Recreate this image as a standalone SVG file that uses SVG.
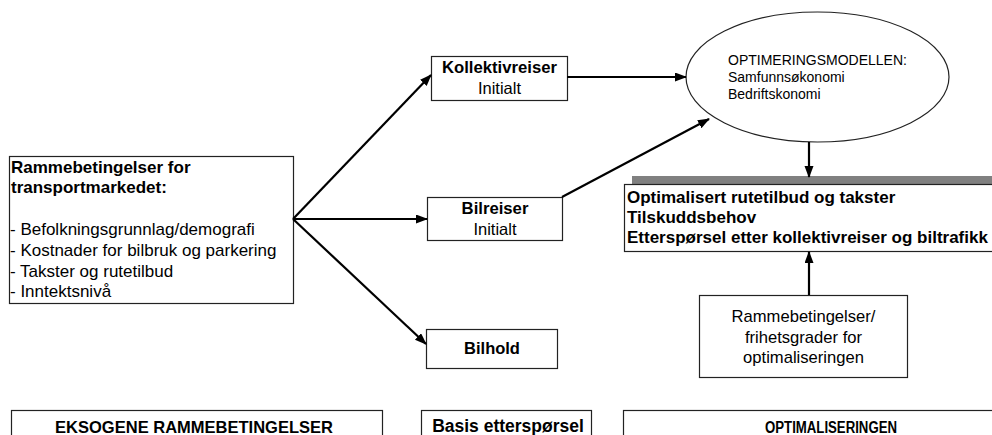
<svg xmlns="http://www.w3.org/2000/svg" width="992" height="435" viewBox="0 0 992 435">
<style>
.box{fill:#fff;stroke:#222;stroke-width:1.2}
.t{font-family:"Liberation Sans",Arial,sans-serif;fill:#000}
.b{font-weight:bold}
.c{text-anchor:middle}
.arr{stroke:#000;stroke-width:2.2;fill:none;marker-end:url(#ah)}
</style>
<defs>
<marker id="ah" markerUnits="userSpaceOnUse" markerWidth="12" markerHeight="10" refX="11" refY="4.5" orient="auto">
<path d="M0,0 L12,4.5 L0,9 z" fill="#000"/>
</marker>
</defs>
<rect width="992" height="435" fill="#fff"/>

<g id="rammebetingelser">
<rect class="box" x="9.5" y="156.5" width="284" height="147"/>
<text class="t b" font-size="17" x="11" y="173">Rammebetingelser for</text>
<text class="t b" font-size="17" x="11" y="193">transportmarkedet:</text>
<text class="t" font-size="17" x="10" y="235">- Befolkningsgrunnlag/demografi</text>
<text class="t" font-size="17" x="10" y="256">- Kostnader for bilbruk og parkering</text>
<text class="t" font-size="17" x="10" y="276.5">- Takster og rutetilbud</text>
<text class="t" font-size="17" x="10" y="297">- Inntektsnivå</text>
</g>

<g id="kollektivreiser">
<rect class="box" x="431.5" y="56.5" width="136" height="44"/>
<text class="t b c" font-size="16.7" x="499.5" y="73">Kollektivreiser</text>
<text class="t c" font-size="16.5" x="499.5" y="94">Initialt</text>
</g>

<g id="bilreiser">
<rect class="box" x="427.5" y="197.5" width="135" height="43"/>
<text class="t b c" font-size="16.7" x="495" y="214">Bilreiser</text>
<text class="t c" font-size="16.5" x="495" y="235">Initialt</text>
</g>

<g id="bilhold">
<rect class="box" x="426.5" y="329.5" width="131" height="39"/>
<text class="t b c" font-size="16.5" x="492" y="354">Bilhold</text>
</g>

<g id="optimeringsmodellen">
<ellipse cx="817.5" cy="77" rx="131.5" ry="65" fill="#fff" stroke="#222" stroke-width="1.2"/>
<text class="t" font-size="14" x="728" y="65">OPTIMERINGSMODELLEN:</text>
<text class="t" font-size="14" x="728" y="82">Samfunnsøkonomi</text>
<text class="t" font-size="14" x="728" y="99">Bedriftskonomi</text>
</g>

<g id="resultat">
<rect x="632" y="176" width="400" height="9" fill="#808080"/>
<rect class="box" x="624.5" y="184.5" width="400" height="67"/>
<text class="t b" font-size="17" x="627" y="203">Optimalisert rutetilbud og takster</text>
<text class="t b" font-size="17" x="627" y="223">Tilskuddsbehov</text>
<text class="t b" font-size="17" x="627" y="243">Etterspørsel etter kollektivreiser og biltrafikk</text>
</g>

<g id="frihetsgrader">
<rect class="box" x="699.5" y="295.5" width="208" height="82"/>
<text class="t c" font-size="16.6" x="803.5" y="322">Rammebetingelser/</text>
<text class="t c" font-size="16.6" x="803.5" y="342.5">frihetsgrader for</text>
<text class="t c" font-size="16.6" x="803.5" y="363">optimaliseringen</text>
</g>

<g id="eksogene">
<rect class="box" x="11.5" y="410.5" width="371" height="40"/>
<text class="t b c" font-size="16.5" x="194" y="433">EKSOGENE RAMMEBETINGELSER</text>
</g>

<g id="basis">
<rect class="box" x="421.5" y="410.5" width="170" height="40"/>
<text class="t b c" font-size="17.5" x="508" y="432">Basis etterspørsel</text>
</g>

<g id="optimaliseringen">
<rect class="box" x="623.5" y="410.5" width="420" height="40"/>
<text class="t b" font-size="16" x="765" y="433" textLength="132" lengthAdjust="spacingAndGlyphs">OPTIMALISERINGEN</text>
</g>

<g id="connectors">
<line class="arr" x1="293" y1="219" x2="431" y2="75"/>
<line class="arr" x1="293" y1="219" x2="427" y2="219"/>
<line class="arr" x1="293" y1="219" x2="426" y2="344"/>
<line class="arr" x1="567" y1="77" x2="686" y2="77"/>
<line class="arr" x1="562" y1="197" x2="709" y2="119"/>
<line class="arr" x1="809" y1="142" x2="809" y2="177"/>
<line class="arr" x1="809" y1="295" x2="809" y2="252"/>
</g>
</svg>
